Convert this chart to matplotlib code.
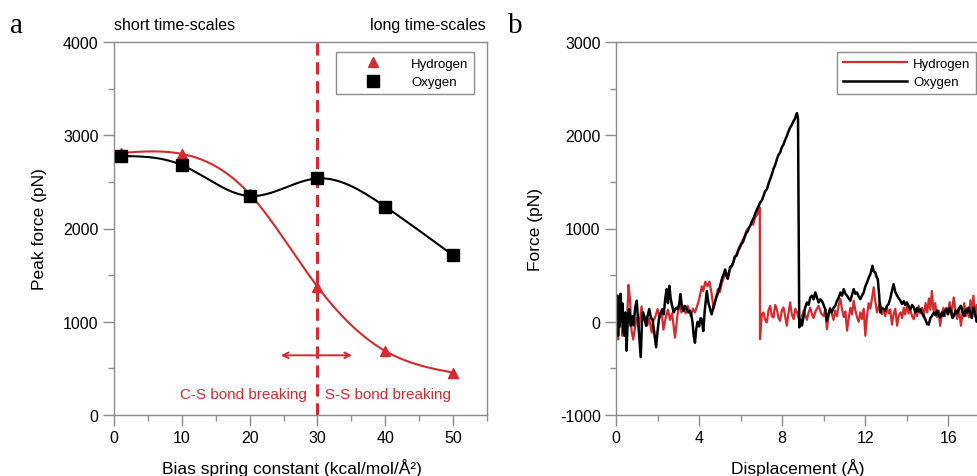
import numpy as np
import matplotlib.pyplot as plt
from matplotlib.ticker import MultipleLocator

plt.rcParams["font.family"] = ["Liberation Sans", "DejaVu Sans"]
plt.rcParams["axes.unicode_minus"] = False

RED = "#d42b2f"
GRAY = "#8c8c8c"

# panel a: peak force vs bias spring constant
k_bias = [1, 10, 20, 30, 40, 50]
peak_hydrogen = [2810, 2800, 2370, 1376, 686, 454]
peak_oxygen = [2777, 2680, 2348, 2537, 2234, 1712]

# panel b: force traces
disp_h = [0.0, 0.05, 0.1, 0.15, 0.2, 0.25, 0.3, 0.35, 0.4, 0.45, 0.5, 0.55, 0.6, 0.67, 0.75, 0.83, 0.9, 1.0,
          1.1, 1.23, 1.3, 1.4, 1.5, 1.6, 1.72, 1.8, 1.9, 2.0, 2.1, 2.2, 2.28, 2.4, 2.5, 2.6, 2.7, 2.84, 2.95,
          3.05, 3.15, 3.25, 3.35, 3.45, 3.6, 3.7, 3.8, 3.9, 4.0, 4.13, 4.2, 4.3, 4.4, 4.5, 4.6, 4.7, 4.8, 4.9,
          5.0, 5.1, 5.2, 5.3, 5.4, 5.5, 5.6, 5.7, 5.8, 5.9, 6.0, 6.1, 6.2, 6.3, 6.4, 6.54, 6.6, 6.7, 6.8, 6.86,
          6.92, 6.93, 6.97, 7.02, 7.1, 7.18, 7.26, 7.34, 7.42, 7.5, 7.58, 7.66, 7.74, 7.82, 7.9, 7.98, 8.06,
          8.14, 8.22, 8.3, 8.38, 8.46, 8.55, 8.63, 8.71, 8.79, 8.87, 8.95, 9.03, 9.11, 9.19, 9.27, 9.35, 9.43,
          9.5, 9.62, 9.75, 9.87, 10.0, 10.07, 10.15, 10.22, 10.3, 10.38, 10.47, 10.55, 10.63, 10.72, 10.8,
          10.88, 10.96, 11.04, 11.12, 11.2, 11.28, 11.36, 11.44, 11.52, 11.6, 11.68, 11.76, 11.84, 11.92, 12.0,
          12.08, 12.16, 12.24, 12.32, 12.4, 12.48, 12.56, 12.64, 12.72, 12.8, 12.88, 12.96, 13.04, 13.12, 13.2,
          13.28, 13.36, 13.44, 13.53, 13.6, 13.7, 13.77, 13.85, 13.92, 14.0, 14.08, 14.16, 14.25, 14.33, 14.41,
          14.49, 14.57, 14.65, 14.73, 14.81, 14.9, 14.98, 15.06, 15.13, 15.2, 15.28, 15.36, 15.45, 15.52, 15.6,
          15.68, 15.76, 15.83, 15.9, 15.98, 16.06, 16.14, 16.2, 16.26, 16.34, 16.42, 16.5, 16.6, 16.68, 16.76,
          16.83, 16.9, 16.98, 17.06, 17.13, 17.2, 17.28, 17.36, 17.45, 17.55, 17.7]
force_h = [-100, 150, -190, 200, -50, 120, -150, 60, -20, 80, -60, 100, 395, 250, -100, -190, -85, 40,
           -60, 165, 20, 60, -40, 30, -115, 10, 60, 136, 40, 110, -85, 50, 130, 20, 90, -170, 60,
           200, 100, 165, 90, 170, 60, 140, 100, 165, 240, 380, 330, 430, 380, 430, 300, 140, 250, 350,
           320, 420, 480, 530, 500, 570, 600, 680, 720, 790, 830, 880, 920, 990, 1000, 1066, 1040, 1120, 1150, 1190,
           1225, -186, -60, 80, 100, 20, -7, 120, 171, 60, 46, 180, 136, 40, 10, 120, 153,
           60, -43, 90, 207, 80, 28, 140, 100, 40, -7, 60, 120, 70, 20, 100, 150, 80,
           40, 120, 170, 90, 60, 130, -80, 40, 150, 90, 20, 120, 60, 180, 243,
           130, 50, 110, -96, 40, 150, 80, 225, 120, 50, 0, 100, 30, 140, -150,
           60, 200, 140, 250, 370, 220, 100, 160, 200, 80, 130, 60, 150, 90, 130,
           -30, 80, 140, -43, 60, 100, 40, 150, 80, 171, 90, 130, 60, 28, 120,
           60, 170, 90, 150, 50, 200, 100, 250, 130, 330, 120, 200, 50, 120, -43,
           80, 150, 60, 150, 100, 210, 70, 180, 260, 100, 30, 150, -43, 90, 200,
           60, 150, 50, 230, 100, 280, 60, 180, 90, 200, 60]

disp_o = [0.0, 0.03, 0.07, 0.1, 0.13, 0.17, 0.22, 0.27, 0.3, 0.35, 0.4, 0.45, 0.51, 0.57, 0.63, 0.7, 0.78,
          0.85, 0.92, 1.0, 1.05, 1.1, 1.19, 1.25, 1.3, 1.38, 1.45, 1.52, 1.6, 1.68, 1.75, 1.82, 1.93, 2.0,
          2.08, 2.15, 2.23, 2.3, 2.37, 2.44, 2.5, 2.57, 2.63, 2.7, 2.78, 2.85, 2.92, 2.98, 3.05, 3.1, 3.18,
          3.25, 3.32, 3.4, 3.48, 3.55, 3.62, 3.68, 3.74, 3.8, 3.86, 3.93, 4.0, 4.07, 4.13, 4.2, 4.27, 4.33,
          4.37, 4.45, 4.53, 4.6, 4.68, 4.75, 4.83, 4.9, 4.97, 5.05, 5.12, 5.2, 5.25, 5.3, 5.38, 5.45, 5.5,
          5.57, 5.65, 5.72, 5.8, 5.88, 5.95, 6.02, 6.1, 6.18, 6.26, 6.34, 6.4, 6.46, 6.55, 6.62, 6.7, 6.78,
          6.86, 6.94, 7.02, 7.1, 7.18, 7.26, 7.34, 7.42, 7.5, 7.58, 7.66, 7.74, 7.82, 7.9, 7.98, 8.06, 8.14,
          8.22, 8.3, 8.38, 8.46, 8.54, 8.62, 8.67, 8.71, 8.76, 8.82, 8.88, 8.95, 9.03, 9.1, 9.19, 9.27, 9.35,
          9.43, 9.51, 9.59, 9.67, 9.75, 9.83, 9.91, 9.99, 10.07, 10.15, 10.22, 10.3, 10.38, 10.47, 10.55,
          10.63, 10.72, 10.8, 10.88, 10.96, 11.04, 11.12, 11.2, 11.28, 11.36, 11.44, 11.52, 11.6, 11.68,
          11.76, 11.84, 11.92, 12.0, 12.08, 12.16, 12.24, 12.3, 12.34, 12.4, 12.48, 12.54, 12.6, 12.66,
          12.72, 12.8, 12.88, 12.96, 13.04, 13.12, 13.2, 13.28, 13.36, 13.44, 13.53, 13.61, 13.69, 13.77,
          13.85, 13.92, 14.0, 14.08, 14.16, 14.25, 14.33, 14.41, 14.49, 14.57, 14.65, 14.73, 14.81, 14.9,
          14.97, 15.05, 15.13, 15.2, 15.3, 15.38, 15.45, 15.52, 15.6, 15.68, 15.76, 15.83, 15.9, 15.98,
          16.06, 16.14, 16.2, 16.26, 16.34, 16.42, 16.5, 16.6, 16.68, 16.76, 16.83, 16.9, 16.98, 17.06,
          17.13, 17.2, 17.28, 17.36, 17.45, 17.55, 17.7]
force_o = [150, -100, 280, -150, 200, -50, 300, 0, 200, -100, -150, 100, -310, 50, 136, -43, 60,
           -40, 150, 225, 50, -100, -380, 0, 100, 30, -43, 60, 136, 40, 30, -80, -273, -100,
           50, 100, 136, 80, 250, 350, 200, 386, 250, 172, 100, 136, 150, 136, 200, 297, 150,
           118, 170, 136, 100, 120, 80, 0, -150, -225, -80, 0, -50, 40, 25, -100, 118, 243,
           330, 200, 136, 80, 150, 200, 260, 300, 350, 420, 480, 520, 560, 500, 460, 540, 590,
           600, 640, 700, 707, 760, 790, 830, 850, 900, 950, 970, 1010, 1030, 1080, 1110, 1160, 1200,
           1240, 1280, 1300, 1350, 1400, 1420, 1480, 1530, 1580, 1640, 1680, 1740, 1790, 1815, 1870, 1900, 1950,
           1990, 2040, 2083, 2110, 2150, 2180, 2220, 2237, 2180, -60, 20, -40, 64, 150, 207, 180, 260,
           280, 240, 314, 260, 207, 240, 225, 180, 136, 10, 80, 136, 100, 150, 171,
           220, 260, 314, 280, 350, 300, 280, 250, 225, 290, 350, 300, 314, 270,
           243, 280, 314, 380, 421, 470, 510, 560, 600, 540, 530, 480, 457, 300,
           100, 150, 136, 120, 171, 190, 250, 330, 403, 320, 280, 250, 225, 190,
           220, 180, 207, 170, 130, 180, 153, 100, 150, 110, 136, 90, 60, 20,
           -25, -30, 40, 60, 100, 70, 120, 80, 46, 100, 60, 120, 136, 80,
           150, 100, 40, 64, 120, 90, 140, 171, 100, 60, 130, 100, 150, 80,
           40, 153, 100, 0, 60, 120, 70]


def natural_spline(x, y, xs):
    x = np.asarray(x, float)
    y = np.asarray(y, float)
    n = len(x)
    h = np.diff(x)
    A = np.zeros((n, n))
    r = np.zeros(n)
    A[0, 0] = A[-1, -1] = 1
    for i in range(1, n - 1):
        A[i, i - 1] = h[i - 1]
        A[i, i] = 2 * (h[i - 1] + h[i])
        A[i, i + 1] = h[i]
        r[i] = 3 * ((y[i + 1] - y[i]) / h[i] - (y[i] - y[i - 1]) / h[i - 1])
    c = np.linalg.solve(A, r)
    b = (y[1:] - y[:-1]) / h - h * (2 * c[:-1] + c[1:]) / 3
    d = (c[1:] - c[:-1]) / (3 * h)
    idx = np.clip(np.searchsorted(x, xs) - 1, 0, n - 2)
    t = xs - x[idx]
    return y[idx] + b[idx] * t + c[idx] * t ** 2 + d[idx] * t ** 3


def style_axes(ax):
    for s in ax.spines.values():
        s.set_color(GRAY)
        s.set_linewidth(1.0)
    ax.tick_params(which="major", length=8, width=1, color=GRAY, labelsize=11.5, pad=3)
    ax.tick_params(which="minor", length=4.5, width=1, color=GRAY)


fig = plt.figure(figsize=(9.77, 4.77), dpi=100)

# ---- panel a ----
ax1 = fig.add_axes([114 / 977, 61 / 477, 373 / 977, 373 / 477])
xs = np.linspace(k_bias[0], k_bias[-1], 300)
ax1.plot(xs, natural_spline(k_bias, peak_hydrogen, xs), color=RED, lw=1.5, zorder=2)
ax1.plot(xs, natural_spline(k_bias, peak_oxygen, xs), color="black", lw=1.5, zorder=2)
ax1.plot(k_bias, peak_hydrogen, "^", color=RED, ms=7, zorder=3, label="Hydrogen")
ax1.plot(k_bias, peak_oxygen, "s", color="black", ms=8, zorder=3, label="Oxygen")

ax1.axvline(30, color=RED, lw=2.2, ls=(0, (4, 2.2)), zorder=1)
ax1.annotate("", xy=(24.6, 640), xytext=(35.1, 640),
             arrowprops=dict(arrowstyle="<->", color=RED, lw=1.4, shrinkA=0, shrinkB=0))
ax1.text(28.5, 222, "C-S bond breaking", color=RED, fontsize=11, ha="right", va="center")
ax1.text(31.1, 222, "S-S bond breaking", color=RED, fontsize=11, ha="left", va="center")

ax1.set_xlim(0, 55)
ax1.set_ylim(0, 4000)
ax1.xaxis.set_major_locator(MultipleLocator(10))
ax1.xaxis.set_minor_locator(MultipleLocator(5))
ax1.yaxis.set_major_locator(MultipleLocator(1000))
ax1.yaxis.set_minor_locator(MultipleLocator(500))
style_axes(ax1)
ax1.set_xticks([0, 10, 20, 30, 40, 50])
ax1.set_xlabel("Bias spring constant (kcal/mol/Å²)", fontsize=12.5)
ax1.set_ylabel("Peak force (pN)", fontsize=12.5)
ax1.xaxis.set_label_coords(0.476, -0.115)
ax1.yaxis.set_label_coords(-0.18, 0.5)
ax1.text(0.0, 1.046, "short time-scales", transform=ax1.transAxes, fontsize=11.5, ha="left", va="center")
ax1.text(0.997, 1.046, "long time-scales", transform=ax1.transAxes, fontsize=11.5, ha="right", va="center")
leg1 = ax1.legend(loc="upper right", bbox_to_anchor=(0.965, 0.973), borderaxespad=0, fontsize=9.5,
                  handlelength=4.8, handletextpad=0.5, fancybox=False, framealpha=1, edgecolor=GRAY)
leg1.get_frame().set_linewidth(1.0)

# ---- panel b ----
ax2 = fig.add_axes([616 / 977, 61 / 477, 374 / 977, 373 / 477])
ax2.plot(disp_h, force_h, color=RED, lw=1.6, label="Hydrogen")
ax2.plot(disp_o, force_o, color="black", lw=1.8, label="Oxygen")
ax2.set_xlim(0, 18)
ax2.set_ylim(-1000, 3000)
ax2.xaxis.set_major_locator(MultipleLocator(4))
ax2.xaxis.set_minor_locator(MultipleLocator(2))
ax2.yaxis.set_major_locator(MultipleLocator(1000))
ax2.yaxis.set_minor_locator(MultipleLocator(500))
style_axes(ax2)
ax2.set_xlabel("Displacement (Å)", fontsize=12.5)
ax2.set_ylabel("Force (pN)", fontsize=12.5)
ax2.xaxis.set_label_coords(0.487, -0.115)
ax2.yaxis.set_label_coords(-0.195, 0.5)
leg2 = ax2.legend(loc="upper right", bbox_to_anchor=(0.9626, 0.973), borderaxespad=0, fontsize=9.5,
                  handlelength=4.9, handletextpad=0.45, fancybox=False, framealpha=1, edgecolor=GRAY)
leg2.get_frame().set_linewidth(1.0)

fig.text(10 / 977, 1 - 26 / 477, "a", family=["Liberation Serif", "DejaVu Serif"], fontsize=21, va="center")
fig.text(508 / 977, 1 - 26 / 477, "b", family=["Liberation Serif", "DejaVu Serif"], fontsize=21, va="center")

fig.savefig("out.png", dpi=100)
plt.close()
